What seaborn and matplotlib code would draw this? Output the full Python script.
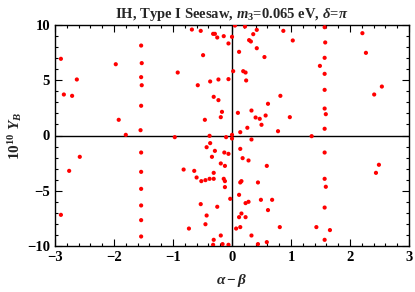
import numpy as np
import pandas as pd
import matplotlib
matplotlib.use("Agg")
import matplotlib.pyplot as plt
from matplotlib.ticker import MultipleLocator
import seaborn as sns

# alpha - beta values
alpha_beta = [
    -1.54, -2.90, -1.97, -1.53, -2.63, -1.54, -1.53, -2.85, -2.71, -1.54,
    -1.92, -1.55, -1.80, -1.54, -2.58, -2.76, -1.54, -1.54, -1.54, -2.90,
    -1.54, -1.54,
    -0.68, -0.53, -0.32, -0.29, -0.25, -0.14, 0.00, 0.05, 0.22, 0.42,
    0.36, 0.29, 0.32, -0.06, 0.87, 0.42, 0.12, -0.49, 0.55, -0.92,
    0.02, 0.19, 0.23, -0.23, -0.06, -0.37, 0.24, -0.58, -0.31, -0.23,
    0.82, 0.61, -0.17, 0.33, 0.10, 0.57, -0.19, 0.40, 0.47, -0.46,
    0.98, 0.50, 0.26, 0.78, 0.14, 0.00, -0.38, -0.10, -0.97, 0.00,
    0.33, -0.37, -0.43, 0.14, -0.29, -0.13, -0.06, -0.34, 0.18, 0.28,
    -0.19, -0.12, 0.59, -0.82, -0.64, -0.31, -0.60, -0.38, -0.31, -0.45,
    -0.52, -0.14, -0.12, 0.16, 0.14, 0.44, -0.12, 0.12, -0.03, 0.49,
    0.68, 0.28, 0.23, -0.53, -0.25, 0.61, 0.16, -0.43, 0.12, 0.23,
    -0.45, -0.73, 0.14, 0.07, 0.81, -0.19, 0.33, -0.31, 0.59, -0.16,
    -0.32, 0.44, -0.06,
    1.57, 2.21, 1.03, 1.58, 2.27, 1.57, 1.49, 1.57, 1.57, 2.54,
    2.41, 1.57, 1.59, 1.57, 1.35, 1.57, 2.49, 2.44, 1.57, 1.59,
    1.57, 1.43, 1.66, 1.57,
]

# 10^10 Y_B values, same order
y_b = [
    8.14, 6.94, 6.45, 6.55, 5.07, 5.28, 4.55, 3.71, 3.59, 2.69,
    1.42, 0.48, 0.06, -1.54, -1.93, -3.20, -3.29, -4.83, -6.33, -7.18,
    -7.66, -9.14,
    9.59, 9.47, 9.20, 9.20, 8.87, 8.99, 8.93, 9.95, 9.86, 9.56,
    9.17, 8.63, 8.51, 8.33, 9.47, 7.90, 7.57, 7.27, 7.10, 5.70,
    5.82, 5.82, 5.70, 5.07, 5.10, 4.89, 4.98, 4.55, 3.50, 3.20,
    3.59, 2.87, 2.14, 2.26, 2.05, 1.81, 1.66, 1.63, 1.51, 1.42,
    1.66, 0.97, 0.70, 0.39, 0.30, 0.06, -0.03, -0.15, -0.15, -0.27,
    -0.36, -0.69, -1.06, -1.21, -1.39, -1.54, -1.66, -1.93, -2.05, -2.26,
    -2.53, -2.75, -2.75, -3.08, -3.20, -3.38, -3.80, -3.92, -3.92, -4.04,
    -4.13, -3.92, -4.13, -4.13, -4.25, -4.25, -4.67, -5.37, -5.73, -5.82,
    -5.82, -6.00, -6.12, -6.21, -6.45, -6.75, -7.06, -7.24, -7.39, -7.39,
    -8.03, -8.42, -8.29, -8.42, -8.29, -9.05, -9.05, -9.44, -9.65, -9.83,
    -9.89, -9.83, -9.89,
    9.80, 9.26, 8.60, 8.42, 7.48, 7.03, 6.30, 5.58, 4.13, 4.43,
    3.71, 2.44, 1.93, 0.61, -0.06, -1.54, -2.65, -3.38, -3.92, -4.64,
    -6.52, -8.29, -8.56, -9.44,
]

df = pd.DataFrame({"ab": alpha_beta, "yb": y_b})

sns.set_style("ticks")
plt.rcParams["font.family"] = ["Liberation Serif", "DejaVu Serif"]
plt.rcParams["mathtext.fontset"] = "custom"
plt.rcParams["mathtext.rm"] = "Liberation Serif:bold"
plt.rcParams["mathtext.it"] = "Liberation Serif:italic:bold"
plt.rcParams["mathtext.bf"] = "Liberation Serif:bold"

fig = plt.figure(figsize=(4.15, 2.92), dpi=100)
ax = fig.add_axes([55 / 415, 1 - 246 / 292, 354 / 415, 221 / 292])

ax.axhline(0, color="black", lw=1.0, zorder=1)
ax.axvline(0, color="black", lw=1.0, zorder=1)

sns.scatterplot(data=df, x="ab", y="yb", ax=ax, color="#ff0000",
                s=9, edgecolor="none", zorder=3)

ax.set_xlim(-3, 3)
ax.set_ylim(-10, 10)
ax.xaxis.set_major_locator(MultipleLocator(1))
ax.xaxis.set_minor_locator(MultipleLocator(0.2))
ax.yaxis.set_major_locator(MultipleLocator(5))
ax.yaxis.set_minor_locator(MultipleLocator(1))
ax.tick_params(which="both", direction="in", top=True, right=True,
               width=0.8, colors="black", labelsize=10.5)
ax.tick_params(which="major", length=5)
ax.tick_params(which="minor", length=2.5)
for lab in ax.get_xticklabels() + ax.get_yticklabels():
    lab.set_fontweight("bold")
for sp in ax.spines.values():
    sp.set_linewidth(1.0)
    sp.set_color("black")

ax.set_xlabel(r"$\alpha - \beta$", fontsize=11, labelpad=6)
ax.set_ylabel(r"$10^{10}\ Y_B$", fontsize=11, labelpad=2)
ax.set_title(r"IH, Type I Seesaw, $m_3$=0.065 eV, $\delta$=$\pi$",
             fontsize=10.5, fontweight="bold", pad=5)

fig.savefig("out.png", dpi=100)
